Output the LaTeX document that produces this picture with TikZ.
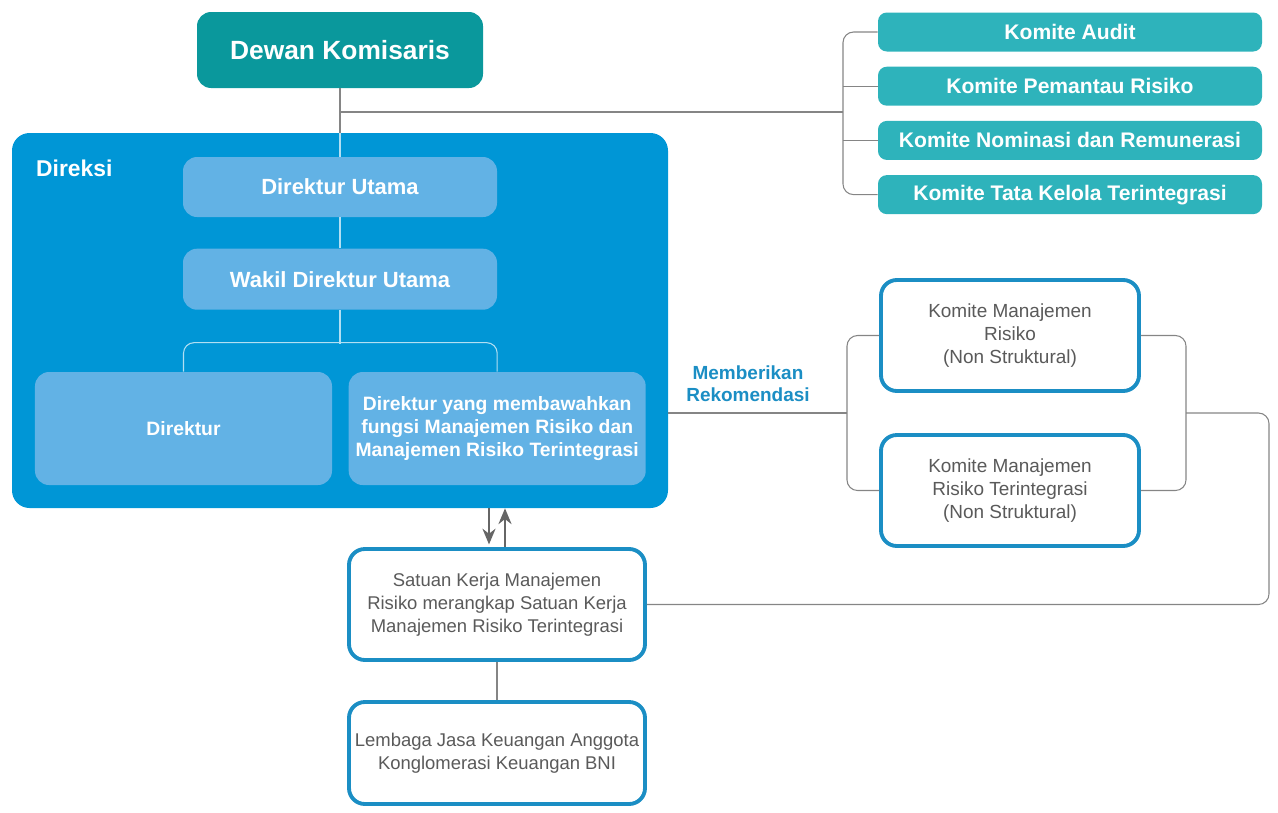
\documentclass[tikz,border=0pt]{standalone}
\usepackage{fontspec}
\setmainfont{Liberation Sans}
\usetikzlibrary{positioning,arrows.meta,calc}

\definecolor{komteal}{HTML}{0A989C}
\definecolor{komlight}{HTML}{2EB3BB}
\definecolor{dirblue}{HTML}{0096D6}
\definecolor{dirlight}{HTML}{62B2E5}
\definecolor{edgeblue}{HTML}{1B8EC4}
\definecolor{linegray}{HTML}{858585}
\definecolor{arrowgray}{HTML}{666666}
\definecolor{txtgray}{HTML}{5A5A5A}

\tikzset{
  dewan/.style={rectangle, rounded corners=8pt, fill=komteal, text=white,
    font=\bfseries\fontsize{15}{18}\selectfont,
    minimum width=5.72cm, minimum height=1.52cm},
  komite/.style={rectangle, rounded corners=5pt, fill=komlight, text=white,
    font=\bfseries\fontsize{12}{14}\selectfont,
    minimum width=7.68cm, minimum height=0.78cm},
  direksibox/.style={rectangle, rounded corners=10pt, fill=dirblue,
    minimum width=13.12cm, minimum height=7.5cm},
  jabatan/.style={rectangle, rounded corners=8pt, fill=dirlight, text=white,
    font=\bfseries\fontsize{12.5}{14}\selectfont, align=center,
    minimum width=6.28cm, minimum height=1.2cm},
  direktur/.style={jabatan, font=\bfseries\fontsize{11}{13}\selectfont,
    minimum width=5.94cm, minimum height=2.26cm},
  komrisk/.style={rectangle, rounded corners=9pt, draw=edgeblue, line width=2.2pt,
    fill=white, text=txtgray, font=\fontsize{10.8}{13}\selectfont, align=center,
    minimum width=5.16cm, minimum height=2.22cm},
  unitbox/.style={komrisk, font=\fontsize{10.5}{13}\selectfont, minimum width=5.92cm},
  garis/.style={draw=linegray, line width=0.6pt},
  garisdalam/.style={draw=white!70!dirblue, line width=0.6pt},
  panah/.style={draw=arrowgray, line width=0.8pt, -{Stealth[length=9pt,width=7.5pt]}},
}

\begin{document}
\begin{tikzpicture}
  \useasboundingbox (0,0) rectangle (25.56,-16.24);

  % dewan komisaris dan komite
  \node(dk)[dewan] at (6.8,-1.0) {Dewan Komisaris};
  \node(audit)[komite] at (21.4,-0.64) {Komite Audit};
  \node(pemantau)[komite, below=0.29cm of audit] {Komite Pemantau Risiko};
  \node(nominasi)[komite, below=0.29cm of pemantau] {Komite Nominasi dan Remunerasi};
  \node(tata)[komite, below=0.29cm of nominasi] {Komite Tata Kelola Terintegrasi};

  % direksi
  \node(direksi)[direksibox] at (6.8,-6.41) {};
  \node(direksilbl)[anchor=west, text=white, font=\bfseries\fontsize{13}{15}\selectfont]
    at (0.6,-3.36) {Direksi};
  \node(du)[jabatan] at (6.8,-3.74) {Direktur Utama};
  \node(wdu)[jabatan, minimum height=1.22cm, below=0.62cm of du] {Wakil Direktur Utama};
  \node(dir)[direktur] at (3.67,-8.57) {Direktur};
  \node(drm)[direktur, right=0.32cm of dir]
    {Direktur yang membawahkan\\fungsi Manajemen Risiko dan\\Manajemen Risiko Terintegrasi};

  % komite manajemen risiko
  \node(mr)[text=edgeblue, align=center, font=\bfseries\fontsize{10.8}{12.5}\selectfont]
    at (14.96,-7.68) {Memberikan\\Rekomendasi};
  \node(kmr)[komrisk] at (20.2,-6.71) {Komite Manajemen\\Risiko\\(Non Struktural)};
  \node(kmrt)[komrisk] at (20.2,-9.81) {Komite Manajemen\\Risiko Terintegrasi\\(Non Struktural)};

  % satuan kerja
  \node(skm)[unitbox] at (9.94,-12.09)
    {Satuan Kerja Manajemen\\Risiko merangkap Satuan Kerja\\Manajemen Risiko Terintegrasi};
  \node(lj)[unitbox, minimum height=2.04cm] at (9.94,-15.06)
    {Lembaga Jasa Keuangan Anggota\\Konglomerasi Keuangan BNI};

  \coordinate(kt) at (16.86,-2.24);
  \coordinate(kl) at (16.94,-8.26);
  \coordinate(kr) at (23.72,-8.26);
  \coordinate(ujung) at (25.38,-8.26);
  \coordinate(turun) at (9.78,0);
  \coordinate(naik) at (10.10,0);

  % garis
  \draw[garis] (dk.south) -- (direksi.north -| dk.south);
  \draw[garisdalam] (direksi.north -| dk.south) -- (du.north);
  \draw[garis] (dk.south |- kt) -- (kt);
  \draw[garis, rounded corners=6pt] (audit.west) -- (audit.west -| kt) -- (tata.west -| kt) -- (tata.west);
  \draw[garis] (pemantau.west -| kt) -- (pemantau.west);
  \draw[garis] (nominasi.west -| kt) -- (nominasi.west);

  \draw[garisdalam] (du) -- (wdu);
  \draw[garisdalam] (wdu.south) -- ++(0,-0.68);
  \draw[garisdalam, rounded corners=6pt] (dir.north) -- ++(0,0.58) -| (drm.north);

  \draw[garis] (kl -| direksi.east) -- (kl);
  \draw[garis, rounded corners=6pt] (kmr.west) -- (kmr.west -| kl) -- (kmrt.west -| kl) -- (kmrt.west);
  \draw[garis, rounded corners=6pt] (kmr.east) -- (kmr.east -| kr) -- (kmrt.east -| kr) -- (kmrt.east);
  \draw[garis, rounded corners=6pt] (kr) -- (ujung) -- (ujung |- skm.east) -- (skm.east);

  \draw[panah, shorten >=1.5pt] (direksi.south -| turun) -- (skm.north -| turun);
  \draw[panah] (skm.north -| naik) -- (direksi.south -| naik);
  \draw[garis] (skm) -- (lj);

\end{tikzpicture}
\end{document}
